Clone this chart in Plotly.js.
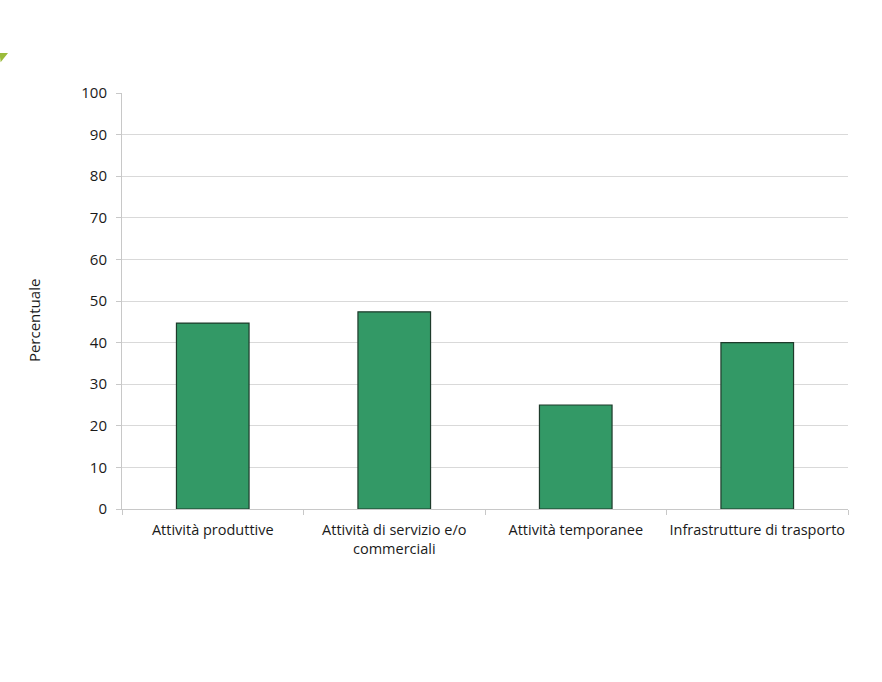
<!DOCTYPE html>
<html>
<head>
<meta charset="utf-8">
<script src="https://cdn.plot.ly/plotly-3.0.1.min.js"></script>
<style>
  html, body { margin: 0; padding: 0; background: #fff; }
  #chart { width: 882px; height: 682px; }
</style>
</head>
<body>
<div id="chart"></div>
<script>
// categories and values
var categorie = [
  'Attività produttive',
  'Attività di servizio e/o<br>commerciali',
  'Attività temporanee',
  'Infrastrutture di trasporto'
];
var percentuali = [44.7, 47.4, 25.0, 40.0];
var yTicks = [0, 10, 20, 30, 40, 50, 60, 70, 80, 90, 100];

var fontFamily = '"Open Sans", Lato, sans-serif';

var trace = {
  x: categorie,
  y: percentuali,
  type: 'bar',
  marker: {
    color: '#339966',
    line: { color: '#1e3b2b', width: 1.2 }
  },
  hoverinfo: 'x+y'
};

var layout = {
  width: 882,
  height: 682,
  margin: { l: 122, r: 34, t: 93, b: 173 },
  paper_bgcolor: '#ffffff',
  plot_bgcolor: '#ffffff',
  bargap: 0.6,
  showlegend: false,
  font: { family: fontFamily, size: 15, color: '#1a1a1a' },
  xaxis: {
    type: 'category',
    showline: true,
    linecolor: '#c8c8c8',
    linewidth: 1,
    ticks: 'outside',
    tickson: 'boundaries',
    ticklen: 5,
    tickcolor: '#c8c8c8',
    tickangle: 0,
    ticklabelstandoff: 8,
    showgrid: false,
    tickfont: { family: fontFamily, size: 14.5, color: '#1a1a1a' },
    fixedrange: true
  },
  yaxis: {
    range: [0, 100],
    tickvals: yTicks,
    ticktext: yTicks.map(String),
    showline: true,
    linecolor: '#c8c8c8',
    linewidth: 1,
    ticks: 'outside',
    ticklen: 5,
    tickcolor: '#c8c8c8',
    ticklabelstandoff: 6,
    showgrid: true,
    gridcolor: '#d9d9d9',
    gridwidth: 1,
    zeroline: false,
    tickfont: { family: fontFamily, size: 15, color: '#1a1a1a' },
    fixedrange: true
  },
  annotations: [
    {
      text: 'Percentuale',
      xref: 'paper', yref: 'paper',
      x: -0.121, y: 0.452,
      xanchor: 'center', yanchor: 'middle',
      textangle: -90,
      showarrow: false,
      font: { family: fontFamily, size: 15, color: '#1a1a1a' }
    }
  ],
  shapes: [
    // little green corner mark at top-left of the original image
    {
      type: 'path',
      xref: 'paper', yref: 'paper',
      path: 'M -0.1686,1.096 L -0.1570,1.096 L -0.1672,1.074 Z',
      fillcolor: '#9bbb3b',
      line: { width: 0 }
    }
  ]
};

Plotly.newPlot('chart', [trace], layout, { displayModeBar: false, staticPlot: true });
</script>
</body>
</html>
